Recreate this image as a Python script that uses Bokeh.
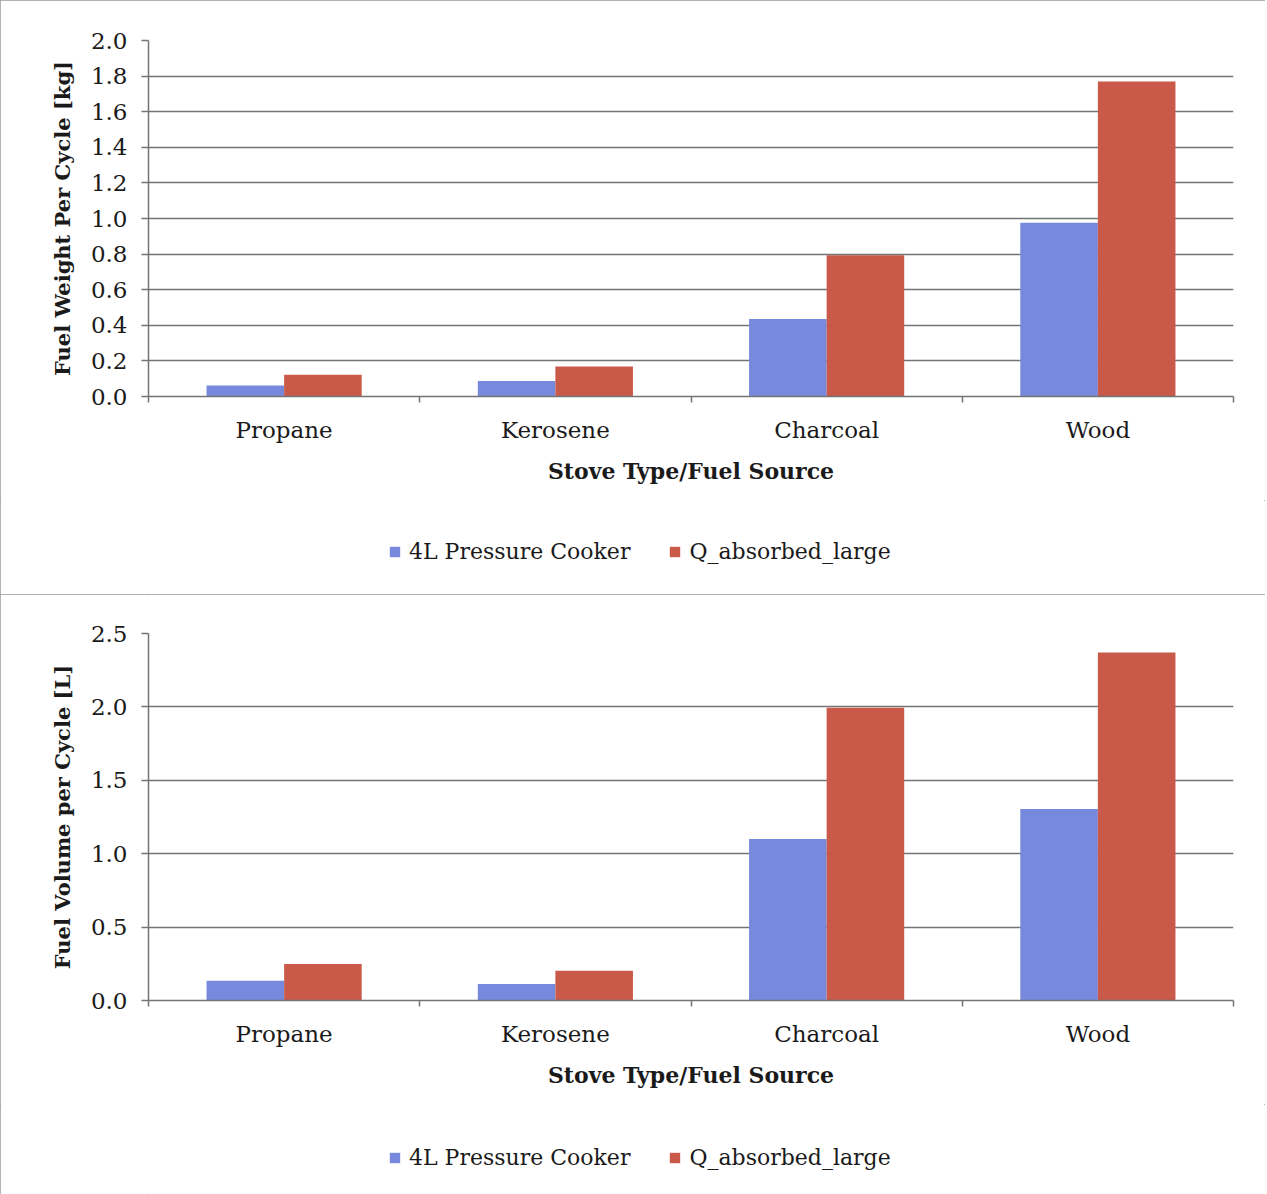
from bokeh.plotting import figure
from bokeh.models import (FixedTicker, Legend, LegendItem, ColumnDataSource, Range1d,
                          PrintfTickFormatter)
from bokeh.layouts import column
from bokeh.embed import file_html
from bokeh.resources import INLINE

# ---------------- data ----------------
categories = ["Propane", "Kerosene", "Charcoal", "Wood"]
series_names = ["4L Pressure Cooker", "Q_absorbed_large"]

weight_cooker = [0.062, 0.087, 0.436, 0.976]
weight_qabs = [0.122, 0.169, 0.793, 1.77]
weight_ticks = [0.0, 0.2, 0.4, 0.6, 0.8, 1.0, 1.2, 1.4, 1.6, 1.8, 2.0]

volume_cooker = [0.135, 0.113, 1.10, 1.305]
volume_qabs = [0.248, 0.203, 1.995, 2.37]
volume_ticks = [0.0, 0.5, 1.0, 1.5, 2.0, 2.5]

x_title = "Stove Type/Fuel Source"
weight_title = "Fuel Weight Per Cycle [kg]"
volume_title = "Fuel Volume per Cycle [L]"

# ---------------- style ----------------
FONT = "DejaVu Serif"
BLUE = "#7689dd"
RED = "#c95a4a"
GRID = "#747474"
TEXT = "#1a1a1a"
BAR_W = 0.286
OFFSET = 0.143
W = 1265


def make_chart(blue_vals, red_vals, yticks, ytitle, chart_h, top_border,
               legend_h, legend_y):
    n = len(categories)
    centers = [i + 0.5 for i in range(n)]
    bounds = [float(i) for i in range(n + 1)]
    src = ColumnDataSource(dict(
        xb=[c - OFFSET for c in centers],
        xr=[c + OFFSET for c in centers],
        blue=blue_vals,
        red=red_vals,
    ))
    p = figure(width=W, height=chart_h, output_backend="svg", toolbar_location=None,
               x_range=Range1d(0, n), y_range=Range1d(yticks[0], yticks[-1]),
               min_border_left=148, min_border_right=32,
               min_border_top=top_border, min_border_bottom=104)
    p.outline_line_color = None

    p.vbar(x="xb", top="blue", bottom=0, width=BAR_W, source=src,
           fill_color=BLUE, line_color=None)
    p.vbar(x="xr", top="red", bottom=0, width=BAR_W, source=src,
           fill_color=RED, line_color=None)

    # x axis
    xa = p.xaxis[0]
    xa.ticker = FixedTicker(ticks=centers, minor_ticks=bounds)
    xa.major_label_overrides = {c: lab for c, lab in zip(centers, categories)}
    xa.major_tick_line_color = None
    xa.major_tick_out = 0
    xa.major_tick_in = 0
    xa.minor_tick_line_color = GRID
    xa.minor_tick_line_width = 1.5
    xa.minor_tick_out = 6
    xa.minor_tick_in = 0
    xa.axis_line_color = GRID
    xa.axis_line_width = 1.5
    xa.major_label_text_font = FONT
    xa.major_label_text_font_size = "23px"
    xa.major_label_text_color = TEXT
    xa.major_label_standoff = 14
    xa.axis_label = x_title
    xa.axis_label_text_font = FONT
    xa.axis_label_text_font_style = "bold"
    xa.axis_label_text_font_size = "22px"
    xa.axis_label_text_color = TEXT
    xa.axis_label_standoff = 12

    # y axis
    ya = p.yaxis[0]
    ya.ticker = FixedTicker(ticks=yticks)
    ya.formatter = PrintfTickFormatter(format="%.1f")
    ya.major_tick_line_color = GRID
    ya.major_tick_line_width = 1.5
    ya.major_tick_out = 7
    ya.major_tick_in = 0
    ya.minor_tick_line_color = None
    ya.axis_line_color = GRID
    ya.axis_line_width = 1.5
    ya.major_label_text_font = FONT
    ya.major_label_text_font_size = "23px"
    ya.major_label_text_color = TEXT
    ya.major_label_standoff = 14
    ya.axis_label = ytitle
    ya.axis_label_text_font = FONT
    ya.axis_label_text_font_style = "bold"
    ya.axis_label_text_font_size = "21px"
    ya.axis_label_text_color = TEXT
    ya.axis_label_standoff = 13

    p.xgrid.grid_line_color = None
    p.ygrid.ticker = FixedTicker(ticks=yticks)
    p.ygrid.grid_line_color = GRID
    p.ygrid.grid_line_width = 1.5

    # legend strip: hidden copies of the two bar series supply the legend swatches
    lf = figure(width=W, height=legend_h, output_backend="svg", toolbar_location=None,
                x_range=Range1d(0, n), y_range=Range1d(yticks[0], yticks[-1]),
                x_axis_location=None, y_axis_location=None, min_border=0)
    lf.outline_line_color = None
    lf.grid.visible = False
    lb = lf.vbar(x="xb", top="blue", bottom=0, width=BAR_W, source=src,
                 fill_color=BLUE, line_color=None, visible=False)
    lr = lf.vbar(x="xr", top="red", bottom=0, width=BAR_W, source=src,
                 fill_color=RED, line_color=None, visible=False)
    legend = Legend(items=[LegendItem(label=series_names[0], renderers=[lb]),
                           LegendItem(label=series_names[1], renderers=[lr])],
                    orientation="horizontal", location=(240, legend_y),
                    glyph_width=13, glyph_height=13, label_standoff=8, spacing=38,
                    border_line_color=None, background_fill_alpha=0,
                    inactive_fill_alpha=0,
                    label_text_font=FONT, label_text_font_size="22px",
                    label_text_color=TEXT, margin=0, padding=0)
    lf.add_layout(legend, "center")

    return column(p, lf, spacing=0,
                  styles={"outline": "1px solid #9a9a9a", "outline-offset": "-1px"})


panel1 = make_chart(weight_cooker, weight_qabs, weight_ticks, weight_title,
                    chart_h=500, top_border=40, legend_h=94, legend_y=30)
panel2 = make_chart(volume_cooker, volume_qabs, volume_ticks, volume_title,
                    chart_h=510, top_border=39, legend_h=90, legend_y=24)

layout = column(panel1, panel2, spacing=0)
open("out.html", "w").write(file_html(layout, INLINE))
